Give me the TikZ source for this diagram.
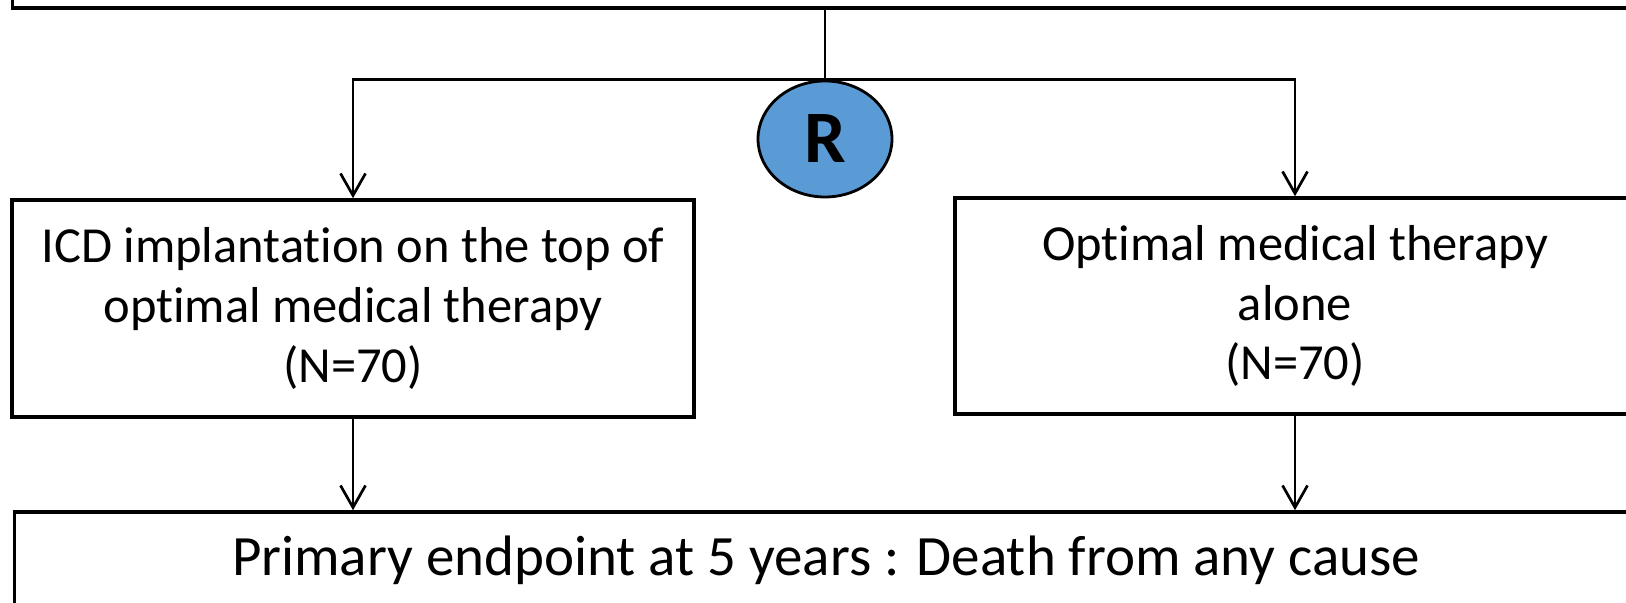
\documentclass[tikz,border=0pt]{standalone}
\usepackage{fontspec}
\setmainfont{Carlito}[RawFeature={-liga;-clig;-dlig;-calt}]
\usetikzlibrary{arrows.meta,shapes.geometric}
\definecolor{rblue}{RGB}{91,155,213}
\tikzset{
  boxstyle/.style={draw=black, line width=1.8pt, rectangle, inner sep=0pt, align=center,
    font=\fontsize{25.25}{29.8}\selectfont},
  conn/.style={draw=black, line width=1.35pt},
  arr/.style={conn, -{Straight Barb[length=11pt,width=12.5pt,line width=1.35pt]}},
}
\begin{document}
\begin{tikzpicture}[x=0.5pt,y=-0.5pt]
\useasboundingbox (0,0) rectangle (1626,603);
\clip (0,0) rectangle (1626,603);
\fill[white] (0,0) rectangle (1626,603);
% top box (cut off)
\node[boxstyle, minimum width=823.5pt, minimum height=64.25pt] (top) at (836,-56) {};
% randomisation circle
\node[ellipse, draw=black, line width=1.4pt, fill=rblue, inner sep=0pt,
  minimum width=67pt, minimum height=58pt,
  font=\fontsize{37}{40}\selectfont\bfseries] (R) at (825,139) {R};
% arm boxes
\node[boxstyle, minimum width=341pt, minimum height=108.5pt] (left) at (353,308.5)
  {ICD implantation on the top of\\optimal medical therapy\\(N=70)};
\node[boxstyle, minimum width=340pt, minimum height=108pt] (right) at (1295,306)
  {Optimal medical therapy\\alone\\(N=70)};
% endpoint box (cut off)
\node[boxstyle, minimum width=811.5pt, minimum height=48pt,
  font=\fontsize{28.5}{33}\selectfont] (bottom) at (826,560)
  {Primary endpoint at 5 years : Death from any cause};
% connectors
\draw[conn] (R.north |- top.south) -- (R.north);
\draw[arr] (R.north) -| (left.north);
\draw[arr] (R.north) -| (right.north);
\draw[arr] (left.south) -- (left.south |- bottom.north);
\draw[arr] (right.south) -- (right.south |- bottom.north);
\end{tikzpicture}
\end{document}
